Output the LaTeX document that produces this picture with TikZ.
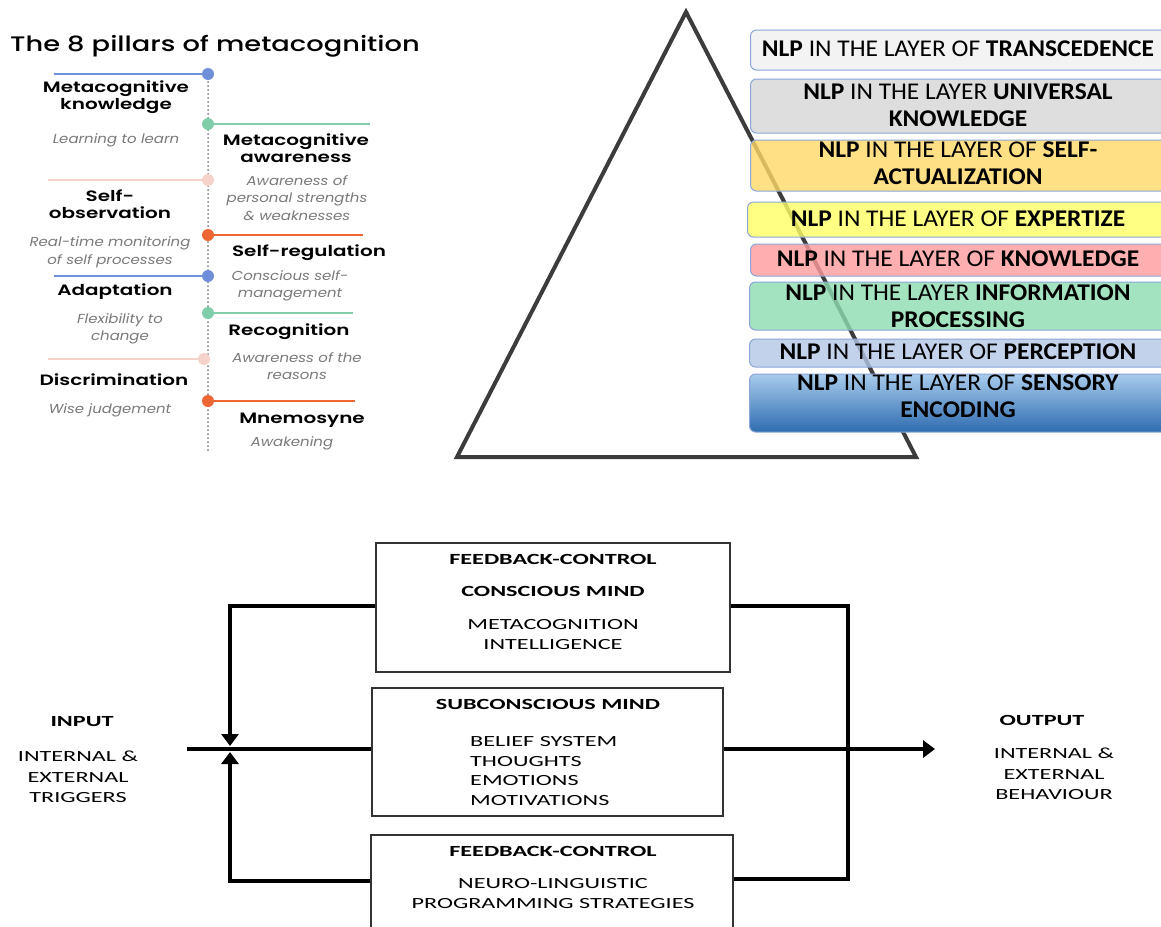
\documentclass[tikz,border=0pt]{standalone}
\usepackage{fontspec}
\usetikzlibrary{arrows.meta}
\newfontfamily\popt{Poppins Medium}[FakeStretch=1.3]
\newfontfamily\popl{Poppins SemiBold}[FakeStretch=1.33]
\newfontfamily\popd{Poppins}[FakeStretch=1.15]
\newfontfamily\calf{Carlito}[FakeStretch=1.06]
\newfontfamily\calw{Carlito}[FakeStretch=1.56]
\definecolor{pblue}{HTML}{6F8FD9}
\definecolor{pgreen}{HTML}{7FCDA9}
\definecolor{ppink}{HTML}{F6D3CA}
\definecolor{porange}{HTML}{EE6633}
\definecolor{descgray}{HTML}{7A7A7A}
\definecolor{tri}{HTML}{3C3C3C}
\definecolor{lborder}{HTML}{8AA6DA}
\definecolor{lone}{HTML}{F2F2F2}
\definecolor{ltwo}{HTML}{D9D9D9}
\definecolor{lthree}{HTML}{FFD966}
\definecolor{lfour}{HTML}{FFFF66}
\definecolor{lfive}{HTML}{FF9B9B}
\definecolor{lsix}{HTML}{8EDCB0}
\definecolor{lseven}{HTML}{B4C7E7}
\definecolor{leighttop}{HTML}{A8CBEC}
\definecolor{leightbot}{HTML}{2E6CB0}
\definecolor{boxline}{HTML}{333333}
\tikzset{
  pline/.style={line width=2pt},
  pdot/.style={circle, inner sep=0pt, minimum size=12pt},
  plabel/.style={font=\popl\fontsize{15}{17}\selectfont, align=center, inner sep=0pt},
  pdesc/.style={font=\popd\itshape\fontsize{13}{17.5}\selectfont, text=descgray, align=center, inner sep=0pt},
  layer/.style={draw=lborder, line width=1pt, rounded corners=6pt, anchor=west, minimum width=420pt, inner sep=0pt},
  ltext/.style={font=\calf\fontsize{24}{27}\selectfont, align=center, inner sep=0pt},
  mbox/.style={draw=boxline, line width=1.5pt, inner sep=0pt},
  btext/.style={font=\calw\fontsize{15.5}{20}\selectfont, align=center, inner sep=0pt},
  bbold/.style={font=\calw\bfseries\fontsize{15.5}{20}\selectfont, align=center, inner sep=0pt},
  conn/.style={line width=4pt, black},
  tip/.style={-{Triangle[width=17pt,length=12pt]}}
}
\begin{document}
\begin{tikzpicture}[x=1pt,y=-1pt]
\clip (0,0) rectangle (1161,926);
\fill[white] (0,0) rectangle (1161,926);

% ---------- 8 pillars ----------
\node[font=\popt\fontsize{21}{24}\selectfont, anchor=west, inner sep=0pt] (title) at (10,46) {The 8 pillars of metacognition};
\coordinate (vtop) at (208,74);
\coordinate (vbot) at (208,452);
\draw[line width=2pt, descgray, dash pattern=on 0pt off 4pt, line cap=round] (vtop) -- (vbot);

\coordinate (e1) at (54,74);
\coordinate (e2) at (370,124);
\coordinate (e3) at (48,180);
\coordinate (e4) at (363,235);
\coordinate (e5) at (54,276);
\coordinate (e6) at (353,313);
\coordinate (e7) at (48,359);
\coordinate (e8) at (355,401);
\node[pdot, fill=pblue] (d1) at (208,74) {};
\node[pdot, fill=pgreen] (d2) at (208,124) {};
\node[pdot, fill=ppink] (d3) at (208,180) {};
\node[pdot, fill=porange] (d4) at (208,235) {};
\node[pdot, fill=pblue] (d5) at (208,276) {};
\node[pdot, fill=pgreen] (d6) at (208,313) {};
\node[pdot, fill=ppink] (d7) at (204,359) {};
\node[pdot, fill=porange] (d8) at (208,401) {};
\draw[pline, pblue] (e1) -- (d1);
\draw[pline, pgreen] (d2) -- (e2);
\draw[pline, ppink] (e3) -- (d3);
\draw[pline, porange] (d4) -- (e4);
\draw[pline, pblue] (e5) -- (d5);
\draw[pline, pgreen] (d6) -- (e6);
\draw[pline, ppink] (e7) -- (d7);
\draw[pline, porange] (d8) -- (e8);

\node[plabel] (t1) at (116,97.5) {Metacognitive\\knowledge};
\node[pdesc] (s1) at (116,140) {Learning to learn};
\node[plabel] (t2) at (296,148) {Metacognitive\\awareness};
\node[pdesc] (s2) at (297,198) {Awareness of\\personal strengths\\\& weaknesses};
\node[plabel] (t3) at (110,204.5) {Self-\\observation};
\node[pdesc] (s3) at (110,252) {Real-time monitoring\\of self processes};
\node[plabel] (t4) at (309,253) {Self-regulation};
\node[pdesc] (s4) at (290,286) {Conscious self-\\management};
\node[plabel] (t5) at (115,292) {Adaptation};
\node[pdesc] (s5) at (120,329) {Flexibility to\\change};
\node[plabel] (t6) at (289,332) {Recognition};
\node[pdesc] (s6) at (297,366) {Awareness of the\\reasons};
\node[plabel] (t7) at (114,380) {Discrimination};
\node[pdesc] (s7) at (110,410) {Wise judgement};
\node[plabel] (t8) at (302,420) {Mnemosyne};
\node[pdesc] (s8) at (292,443) {Awakening};

% ---------- pyramid ----------
\coordinate (apex) at (686,12);
\coordinate (bl) at (457,457);
\coordinate (br) at (916,457);
\draw[tri, line width=4pt, line join=miter] (apex) -- (bl) -- (br) -- cycle;

\node[layer, fill=lone, fill opacity=0.85, minimum height=40pt] (l1) at (750,50) {};
\node[layer, fill=ltwo, fill opacity=0.85, minimum height=54pt] (l2) at (750,106) {};
\node[layer, fill=lthree, fill opacity=0.8, minimum height=51pt] (l3) at (750,165.5) {};
\node[layer, fill=lfour, fill opacity=0.8, minimum height=35pt] (l4) at (747,219.5) {};
\node[layer, fill=lfive, fill opacity=0.8, minimum height=32pt] (l5) at (750,260) {};
\node[layer, fill=lsix, fill opacity=0.8, minimum height=48pt] (l6) at (749,306) {};
\node[layer, fill=lseven, fill opacity=0.8, minimum height=28pt] (l7) at (749,353) {};
\node[layer, top color=leighttop, bottom color=leightbot, minimum height=58pt] (l8) at (749,403) {};

\node[ltext] (lt1) at (958,49) {\textbf{NLP} IN THE LAYER OF \textbf{TRANSCEDENCE}};
\node[ltext] (lt2) at (958,105.5) {\textbf{NLP} IN THE LAYER \textbf{UNIVERSAL}\\\textbf{KNOWLEDGE}};
\node[ltext] (lt3) at (958,163.5) {\textbf{NLP} IN THE LAYER OF \textbf{SELF-}\\\textbf{ACTUALIZATION}};
\node[ltext] (lt4) at (958,219) {\textbf{NLP} IN THE LAYER OF \textbf{EXPERTIZE}};
\node[ltext] (lt5) at (958,259) {\textbf{NLP} IN THE LAYER OF \textbf{KNOWLEDGE}};
\node[ltext] (lt6) at (958,306.5) {\textbf{NLP} IN THE LAYER \textbf{INFORMATION}\\\textbf{PROCESSING}};
\node[ltext] (lt7) at (958,352) {\textbf{NLP} IN THE LAYER OF \textbf{PERCEPTION}};
\node[ltext] (lt8) at (958,396.5) {\textbf{NLP} IN THE LAYER OF \textbf{SENSORY}\\\textbf{ENCODING}};

% ---------- feedback diagram ----------
\node[mbox, minimum width=354pt, minimum height=129pt] (b1) at (553,607.5) {};
\node[mbox, minimum width=351pt, minimum height=128pt] (b2) at (547.5,752) {};
\node[mbox, minimum width=362pt, minimum height=110pt] (b3) at (552,890) {};

\node[bbold] (b1a) at (553,559) {FEEDBACK-CONTROL};
\node[bbold] (b1b) at (553,591) {CONSCIOUS MIND};
\node[btext] (b1c) at (553,634.5) {METACOGNITION\\INTELLIGENCE};
\node[bbold] (b2a) at (548,704) {SUBCONSCIOUS MIND};
\node[btext, align=left, anchor=west, font=\calw\fontsize{15.5}{19.4}\selectfont] (b2b) at (470,771) {BELIEF SYSTEM\\THOUGHTS\\EMOTIONS\\MOTIVATIONS};
\node[bbold] (b3a) at (553,851) {FEEDBACK-CONTROL};
\node[btext] (b3b) at (553,893.5) {NEURO-LINGUISTIC\\PROGRAMMING STRATEGIES};

\node[bbold] (inp) at (82,722) {INPUT};
\node[btext, font=\calw\fontsize{15.5}{20.5}\selectfont] (inpt) at (78,777) {INTERNAL \&\\EXTERNAL\\TRIGGERS};
\node[bbold] (outp) at (1042,720) {OUTPUT};
\node[btext, font=\calw\fontsize{15.5}{20.5}\selectfont] (outpt) at (1054,774) {INTERNAL \&\\EXTERNAL\\BEHAVIOUR};

\coordinate (jup) at (230,746);
\coordinate (jdn) at (230,752);
\coordinate (inL) at (187,749);
\coordinate (rt) at (848,606);
\coordinate (rb) at (848,879);
\coordinate (outR) at (935,749);

\draw[conn] (inL) -- ([yshift=3pt]b2.west);
\draw[conn, tip] ([yshift=1.5pt]b1.west) -| (jup);
\draw[conn, tip] ([yshift=9pt]b3.west) -| (jdn);
\draw[conn] ([yshift=1.5pt]b1.east) -- (rt) -- (rb) -- ([yshift=11pt]b3.east);
\draw[conn, tip] ([yshift=3pt]b2.east) -- (outR);
\end{tikzpicture}
\end{document}
